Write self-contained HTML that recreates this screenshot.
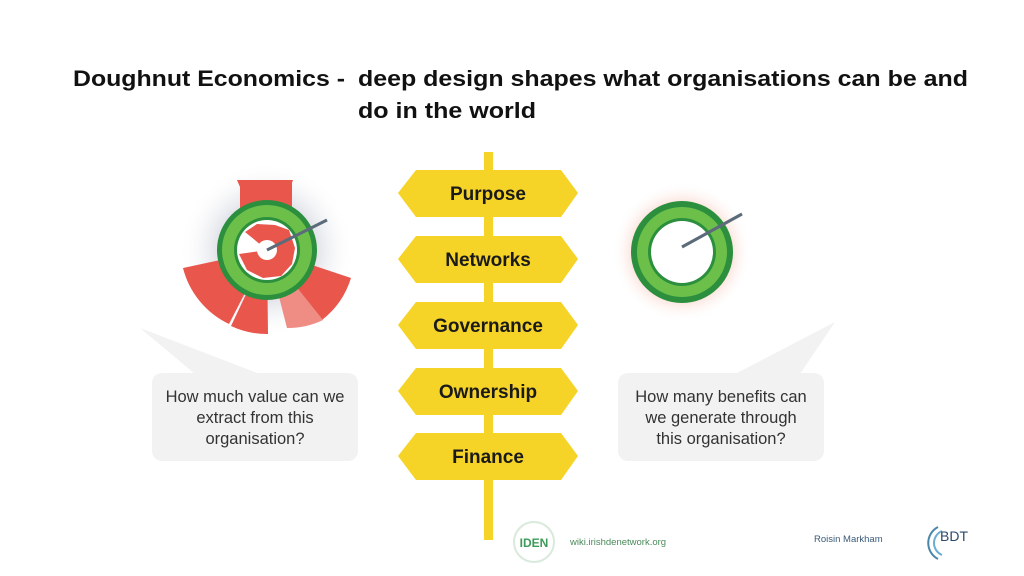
<!DOCTYPE html>
<html><head><meta charset="utf-8"><style>
html,body{margin:0;padding:0;background:#fff;width:1024px;height:576px;overflow:hidden}
svg{display:block}
text{font-family:"Liberation Sans",sans-serif}
</style></head><body>
<svg width="1024" height="576" viewBox="0 0 1024 576">
<defs>
<radialGradient id="glow" cx="50%" cy="50%" r="50%">
<stop offset="55%" stop-color="#f6bfae"/><stop offset="100%" stop-color="#fff" stop-opacity="0"/>
</radialGradient>
<radialGradient id="grey" cx="50%" cy="50%" r="50%">
<stop offset="50%" stop-color="#d8dbe2"/><stop offset="100%" stop-color="#fff" stop-opacity="0"/>
</radialGradient>
</defs>
<text x="73" y="86" font-size="22" font-weight="bold" fill="#111" textLength="272" lengthAdjust="spacingAndGlyphs">Doughnut Economics -</text>
<text x="358" y="86" font-size="22" font-weight="bold" fill="#111" textLength="610" lengthAdjust="spacingAndGlyphs">deep design shapes what organisations can be and</text>
<text x="358" y="118" font-size="22" font-weight="bold" fill="#111" textLength="178" lengthAdjust="spacingAndGlyphs">do in the world</text>

<rect x="484" y="152" width="9" height="388" fill="#f5d327"/>
<g fill="#f5d327">
<polygon points="398,193 416,170 561,170 578,193 561,217 416,217"/>
<polygon points="398,259 416,236 561,236 578,259 561,283 416,283"/>
<polygon points="398,325 416,302 561,302 578,325 561,349 416,349"/>
<polygon points="398,391 416,368 561,368 578,391 561,415 416,415"/>
<polygon points="398,456 416,433 561,433 578,456 561,480 416,480"/>
</g>
<g font-size="19" font-weight="bold" fill="#1a1a1a" text-anchor="middle">
<text x="488" y="200">Purpose</text>
<text x="488" y="266">Networks</text>
<text x="488" y="332">Governance</text>
<text x="488" y="398">Ownership</text>
<text x="488" y="463">Finance</text>
</g>

<g transform="translate(267,250)">
<circle r="88" fill="url(#grey)"/>
<path d="M0,0 L-30,-70 L-27,-70 L25,-70 L26,-70 Z" fill="#e8564c"/>
<path d="M-27,-70 L25,-70 L25,-40 L-27,-40 Z" fill="#e8564c"/>
<path d="M0,0 L-84,18 A85,85 0 0 0 -38,74 Z" fill="#e8564c"/>
<path d="M0,0 L-36,76 A84,84 0 0 0 1,84 Z" fill="#e8564c"/>
<path d="M0,0 L84,28 A85,85 0 0 1 55,70 Z" fill="#e8564c"/>
<path d="M0,0 L56,70 A80,80 0 0 1 20,78 Z" fill="#ef8d85"/>
<circle r="50" fill="#2b8f3e"/>
<circle r="45" fill="#6cc04a"/>
<circle r="33" fill="#2b8f3e"/>
<circle r="30" fill="#fff"/>
<path d="M0,0 L-22,-18 L-10,-26 L8,-25 L22,-20 L28,-2 L25,14 L14,26 L-4,28 L-20,20 L-28,4 Z" fill="#e8564c"/>
<circle r="10" fill="#fff"/>
<line x1="0" y1="0" x2="60" y2="-30" stroke="#5b6b7a" stroke-width="3"/>
</g>

<g transform="translate(682,252)">
<circle r="70" fill="url(#glow)"/>
<circle r="51" fill="#2b8f3e"/>
<circle r="45" fill="#6cc04a"/>
<circle r="34" fill="#2b8f3e"/>
<circle r="31" fill="#fff"/>
<line x1="0" y1="-5" x2="60" y2="-38" stroke="#5b6b7a" stroke-width="3"/>
</g>

<polygon points="140,328 195,374 260,374" fill="#f2f2f2"/>
<rect x="152" y="373" width="206" height="88" rx="10" fill="#f2f2f2"/>
<g font-size="16.5" fill="#333" text-anchor="middle">
<text x="255" y="402">How much value can we</text>
<text x="255" y="423">extract from this</text>
<text x="255" y="444">organisation?</text>
</g>
<polygon points="835,322 735,374 800,374" fill="#f2f2f2"/>
<rect x="618" y="373" width="206" height="88" rx="10" fill="#f2f2f2"/>
<g font-size="16.5" fill="#333" text-anchor="middle">
<text x="721" y="402">How many benefits can</text>
<text x="721" y="423">we generate through</text>
<text x="721" y="444">this organisation?</text>
</g>

<circle cx="534" cy="542" r="20" fill="#fff" stroke="#d9eadc" stroke-width="2"/>
<text x="534" y="547" font-size="12" font-weight="bold" fill="#3d9a5a" text-anchor="middle">IDEN</text>
<text x="570" y="545" font-size="9.5" fill="#4a8a5a">wiki.irishdenetwork.org</text>
<text x="814" y="542" font-size="9.5" fill="#3a5a7a">Roisin Markham</text>
<path d="M938,527 A18,18 0 0 0 938,559" fill="none" stroke="#4a86a8" stroke-width="2"/>
<path d="M942,531 A13,13 0 0 0 942,555" fill="none" stroke="#6aaed0" stroke-width="2"/>
<text x="940" y="541" font-size="14" fill="#2a4a6a">BDT</text>
</svg>
</body></html>
